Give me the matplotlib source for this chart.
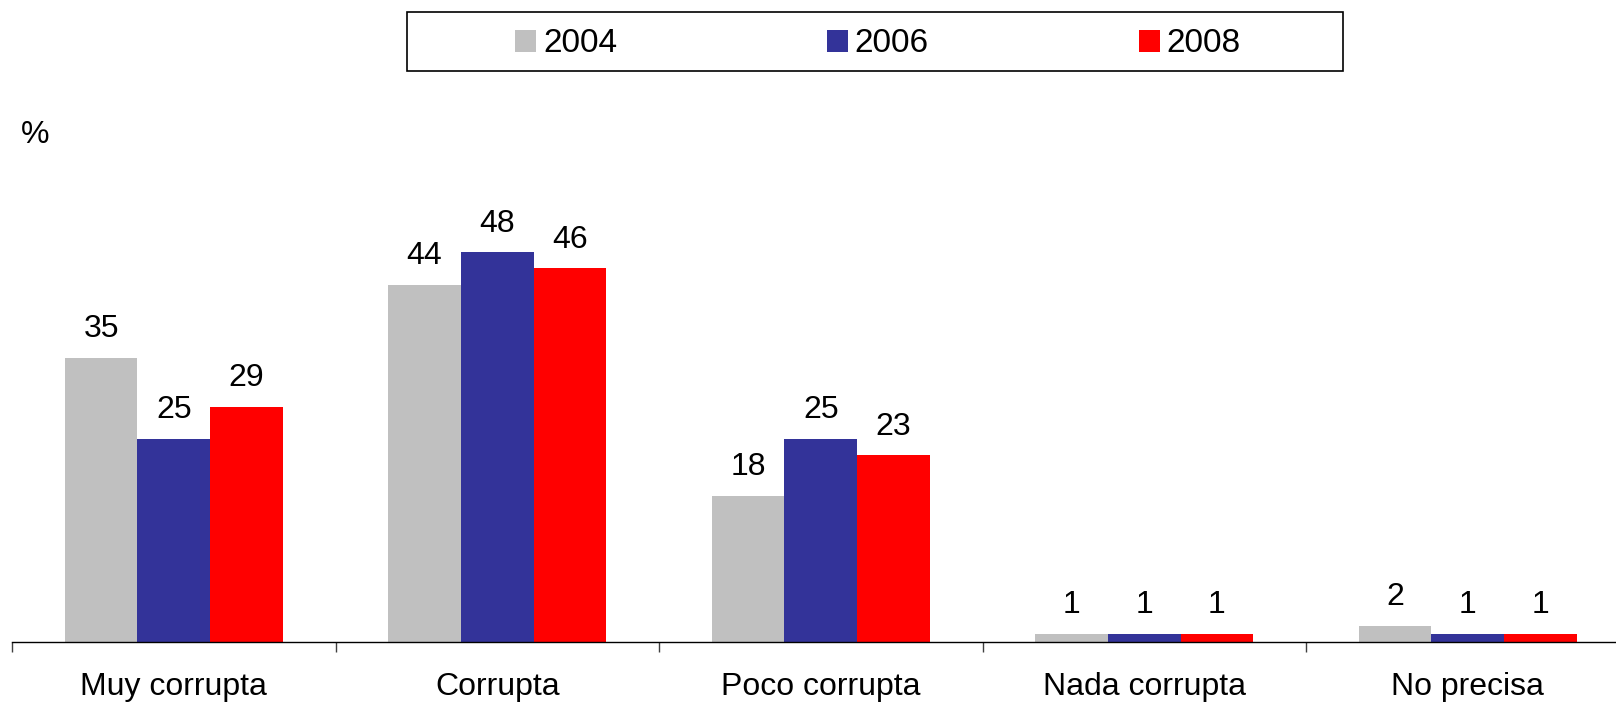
import matplotlib
matplotlib.use('Agg')
import matplotlib.pyplot as plt
import numpy as np
from matplotlib.patches import Rectangle

plt.rcParams['font.family'] = ['Liberation Sans', 'DejaVu Sans']

# Data
categories = ['Muy corrupta', 'Corrupta', 'Poco corrupta', 'Nada corrupta', 'No precisa']
years = ['2004', '2006', '2008']
v2004 = [35, 44, 18, 1, 2]
v2006 = [25, 48, 25, 1, 1]
v2008 = [29, 46, 23, 1, 1]
colors = ['#C0C0C0', '#333399', '#FF0000']

W, H = 1616, 709
fig = plt.figure(figsize=(W / 100, H / 100), dpi=100)

# axes placed in pixel terms (right edge runs off the canvas like the original)
ax_left, ax_bottom = 12, 642
px_per_unit = 8.12
ymax = 60
ax_h = ymax * px_per_unit
ax = fig.add_axes([ax_left / W, (H - ax_bottom) / H, 1617.5 / W, ax_h / H])

x = np.arange(len(categories))
bw = 0.2247
series = [v2004, v2006, v2008]
for i, (vals, c, lab) in enumerate(zip(series, colors, years)):
    pos = x + (i - 1) * bw
    ax.bar(pos, vals, width=bw, color=c, label=lab, linewidth=0)
    for px, v in zip(pos, vals):
        ax.annotate(str(v), (px, v), xytext=(0, 14.8), textcoords='offset points',
                    ha='center', va='baseline', fontsize=23)

ax.set_xlim(-0.5, len(categories) - 0.5)
ax.set_ylim(0, ymax)
ax.set_yticks([])
for s in ['left', 'right', 'top']:
    ax.spines[s].set_visible(False)
ax.spines['bottom'].set_linewidth(1)

ax.set_xticks(x)
ax.set_xticklabels(categories, fontsize=23)
ax.tick_params(axis='x', which='major', length=0, pad=21.6)
ax.set_xticks(np.arange(len(categories) + 1) - 0.5, minor=True)
ax.tick_params(axis='x', which='minor', length=7.5, width=1, color='#404040')

# % label
fig.text(21 / W, 1 - 135 / H, '%', fontsize=23, va='center', ha='left')

# legend box
bx0, bx1, by0, by1 = 407, 1343, 12, 71
fig.patches.append(Rectangle((bx0 / W, 1 - by1 / H), (bx1 - bx0) / W, (by1 - by0) / H,
                             transform=fig.transFigure, fill=False,
                             edgecolor='black', linewidth=1.2))
handles, labels = ax.get_legend_handles_labels()
fig.legend(handles, labels, loc='center', bbox_to_anchor=(878 / W, 1 - 44 / H),
           ncol=3, frameon=False, fontsize=24, handlelength=0.63, handleheight=0.63,
           handletextpad=0.2, columnspacing=6.3)

fig.savefig('out.png', dpi=100)
